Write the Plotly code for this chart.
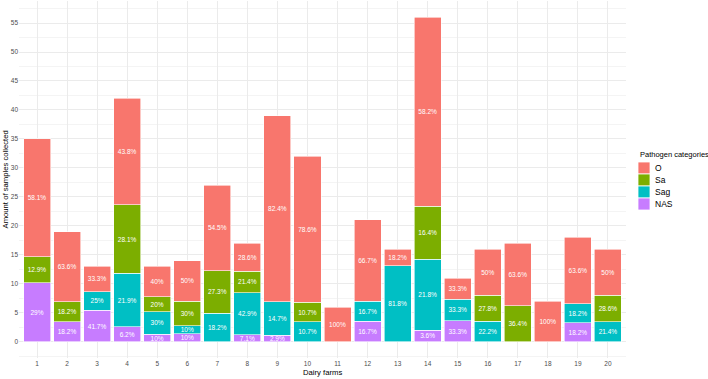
import plotly.graph_objects as go

# ---- data ----
farms = [str(i) for i in range(1, 21)]
totals = [35, 19, 13, 42, 13, 14, 27, 17, 39, 32, 6, 21, 16, 56, 11, 16, 17, 7, 18, 16]
pct_O = [58.1, 63.6, 33.3, 43.8, 40, 50, 54.5, 28.6, 82.4, 78.6, 100, 66.7, 18.2, 58.2, 33.3, 50, 63.6, 100, 63.6, 50]
pct_Sa = [12.9, 18.2, 0, 28.1, 20, 30, 27.3, 21.4, 0, 10.7, 0, 0, 0, 16.4, 0, 27.8, 36.4, 0, 0, 28.6]
pct_Sag = [0, 0, 25, 21.9, 30, 10, 18.2, 42.9, 14.7, 10.7, 0, 16.7, 81.8, 21.8, 33.3, 22.2, 0, 0, 18.2, 21.4]
pct_NAS = [29, 18.2, 41.7, 6.2, 10, 10, 0, 7.1, 2.9, 0, 0, 16.7, 0, 3.6, 33.3, 0, 0, 0, 18.2, 0]
categories = ["O", "Sa", "Sag", "NAS"]
colors = {"O": "#F8766D", "Sa": "#7CAE00", "Sag": "#00BFC4", "NAS": "#C77CFF"}
pcts = {"O": pct_O, "Sa": pct_Sa, "Sag": pct_Sag, "NAS": pct_NAS}

FONT = "Liberation Sans, Arial, sans-serif"
W, H = 708, 379
ML, MR, MT, MB = 19, 82, 1, 21
PW, PH = W - ML - MR, H - MT - MB


def px(x):
    return (x - ML) / PW


def py(y):
    return (H - MB - y) / PH


fig = go.Figure()
xs = list(range(1, 21))
# stack bottom -> top: NAS, Sag, Sa, O
for cat in ["NAS", "Sag", "Sa", "O"]:
    p = pcts[cat]
    heights = [t * v / 100 if v > 0 else None for t, v in zip(totals, p)]
    labels = [f"{v:g}%" if v > 0 else "" for v in p]
    fig.add_trace(go.Bar(
        x=xs, y=heights, name=cat, text=labels,
        textposition="inside", insidetextanchor="middle", textangle=0,
        textfont=dict(family=FONT, size=6.5, color="white"),
        marker=dict(color=colors[cat], line=dict(color="white", width=0.6)),
        width=0.9, showlegend=False, cliponaxis=False,
    ))

fig.update_layout(
    width=W, height=H, barmode="stack",
    margin=dict(l=ML, r=MR, t=MT, b=MB, pad=0),
    paper_bgcolor="white", plot_bgcolor="white",
    font=dict(family=FONT, color="#4D4D4D"),
    uniformtext=dict(minsize=6.5, mode="show"),
    xaxis=dict(range=[0.4, 20.6], tickmode="array", tickvals=xs, ticktext=farms,
               showgrid=True, gridcolor="#EBEBEB", gridwidth=1, zeroline=False,
               ticks="", tickfont=dict(size=6.5, color="#4D4D4D"), showline=False),
    yaxis=dict(range=[-2.8, 58.8], tickmode="linear", tick0=0, dtick=5,
               showgrid=True, gridcolor="#EBEBEB", gridwidth=1, zeroline=False,
               ticks="", tickfont=dict(size=6.5, color="#4D4D4D"), showline=False,
               minor=dict(dtick=2.5, tick0=0, showgrid=True, gridcolor="#F4F4F4", gridwidth=0.6)),
)

annotations = [
    dict(text="Dairy farms", x=px(322), y=py(372.5), xref="paper", yref="paper",
         showarrow=False, font=dict(family=FONT, size=7.7, color="#000000"),
         xanchor="center", yanchor="middle"),
    dict(text="Amount of samples collected", x=px(5), y=0.5, xref="paper", yref="paper",
         showarrow=False, textangle=-90, font=dict(family=FONT, size=7.7, color="#000000"),
         xanchor="center", yanchor="middle"),
    dict(text="Pathogen categories", x=px(638), y=py(154), xref="paper", yref="paper",
         showarrow=False, font=dict(family=FONT, size=7.5, color="#000000"),
         xanchor="left", yanchor="middle"),
]
shapes = []
key_top = 162
key_h = 12
for i, cat in enumerate(categories):
    y0 = key_top + i * key_h
    shapes.append(dict(type="rect", xref="paper", yref="paper",
                       x0=px(638), x1=px(650), y0=py(y0 + key_h), y1=py(y0),
                       fillcolor=colors[cat], line=dict(color="white", width=0.8)))
    annotations.append(dict(text=cat, x=px(653), y=py(y0 + key_h / 2), xref="paper", yref="paper",
                            showarrow=False, font=dict(family=FONT, size=8.5, color="#000000"),
                            xanchor="left", yanchor="middle"))
fig.update_layout(annotations=annotations, shapes=shapes)

fig.write_html("out.html")
